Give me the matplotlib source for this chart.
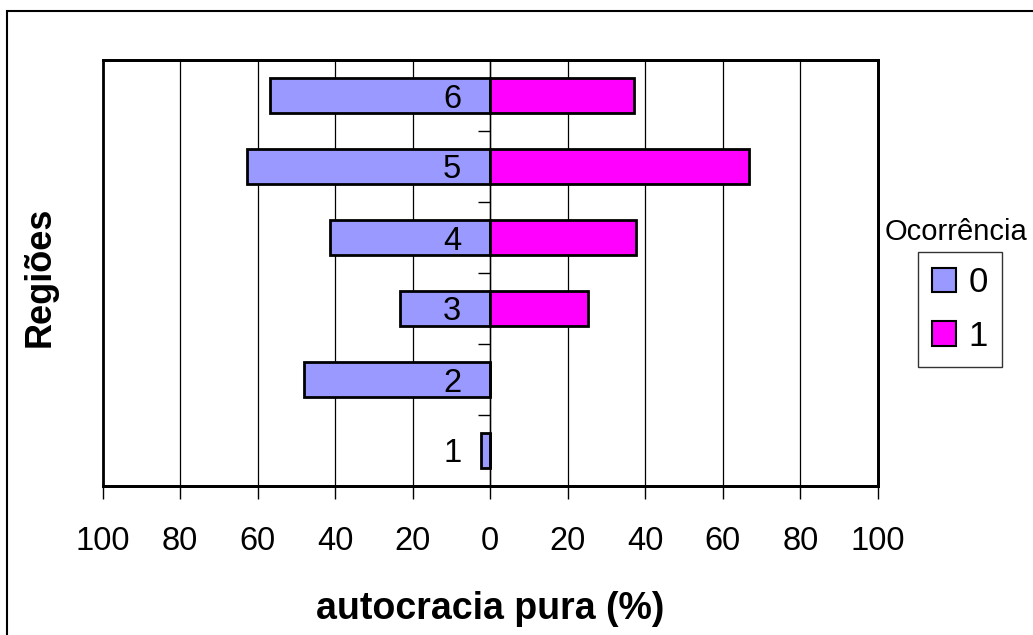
import matplotlib
matplotlib.use('Agg')
import matplotlib.pyplot as plt
from matplotlib.patches import Rectangle, Patch
import numpy as np

plt.rcParams['font.family'] = ['Liberation Sans', 'DejaVu Sans']

# dados
regioes = ['1', '2', '3', '4', '5', '6']
ocorrencia_0 = [2.4, 48.1, 23.4, 41.4, 62.8, 56.8]
ocorrencia_1 = [0.0, 0.0, 25.3, 37.7, 66.8, 37.0]
xticks = [-100, -80, -60, -40, -20, 0, 20, 40, 60, 80, 100]

cor0 = '#9999FF'
cor1 = '#FF00FF'

fig = plt.figure(figsize=(10.33, 6.35), dpi=100)
ax = fig.add_axes([102.5 / 1033, 1 - 486 / 635, (878 - 102.5) / 1033, (486 - 60) / 635])

y = np.arange(len(regioes))
ax.barh(y, [-v for v in ocorrencia_0], height=0.5, color=cor0, edgecolor='black', linewidth=2, zorder=3)
ax.barh(y, ocorrencia_1, height=0.5, color=cor1, edgecolor='black', linewidth=2, zorder=3)

ax.set_xlim(-100, 100)
ax.set_ylim(-0.5, len(regioes) - 0.5)

# eixo x
ax.set_xticks(xticks)
ax.set_xticklabels([str(abs(t)) for t in xticks], fontsize=23.5)
ax.tick_params(axis='x', direction='out', length=9, width=1, pad=20)
ax.grid(axis='x', color='black', linewidth=0.9, zorder=0)
ax.set_xlabel('autocracia pura (%)', fontsize=27, fontweight='bold', labelpad=24)

# eixo y no zero, rótulos das regiões por cima das barras
ax.spines['left'].set_position(('data', 0))
ax.spines['left'].set_linewidth(1)
ax.set_yticks(y)
ax.set_yticklabels([])
ax.set_yticks(np.arange(len(regioes) + 1) - 0.5, minor=True)
ax.tick_params(axis='y', which='major', length=0)
ax.tick_params(axis='y', which='minor', direction='out', length=9, width=1)
for yi, r in zip(y, regioes):
    ax.annotate(r, xy=(0, yi), xytext=(-29, 0), textcoords='offset pixels',
                ha='right', va='center_baseline', fontsize=23.5, zorder=6)
for s in ['top', 'right', 'bottom']:
    ax.spines[s].set_linewidth(2)

# moldura da área do gráfico
ax.add_patch(Rectangle((0, 0), 1, 1, transform=ax.transAxes, fill=False,
                       edgecolor='black', linewidth=2, clip_on=False, zorder=5))

fig.text(40 / 1033, 1 - 277 / 635, 'Regiões', rotation=90, fontsize=26,
         fontweight='bold', ha='center', va='center')

# legenda
handles = [Patch(facecolor=cor0, edgecolor='black', linewidth=1.5, label='0'),
           Patch(facecolor=cor1, edgecolor='black', linewidth=1.5, label='1')]
leg = fig.legend(handles=handles, loc='upper left', bbox_to_anchor=(918 / 1033, 1 - 252 / 635),
                 fontsize=25, frameon=True, fancybox=False, handlelength=0.7,
                 handleheight=0.7, handletextpad=0.35, borderpad=0.4, labelspacing=0.6,
                 borderaxespad=0)
leg.get_frame().set_edgecolor('black')
leg.get_frame().set_linewidth(1)
fig.text(956 / 1033, 1 - 232 / 635, 'Ocorrência', fontsize=21, ha='center', va='center')

# borda da figura
fig.patches.append(Rectangle((7 / 1033, -0.1), 1.2, 1.1 - 11 / 635,
                             transform=fig.transFigure, fill=False,
                             edgecolor='black', linewidth=1.5))

fig.savefig('out.png', dpi=100)
